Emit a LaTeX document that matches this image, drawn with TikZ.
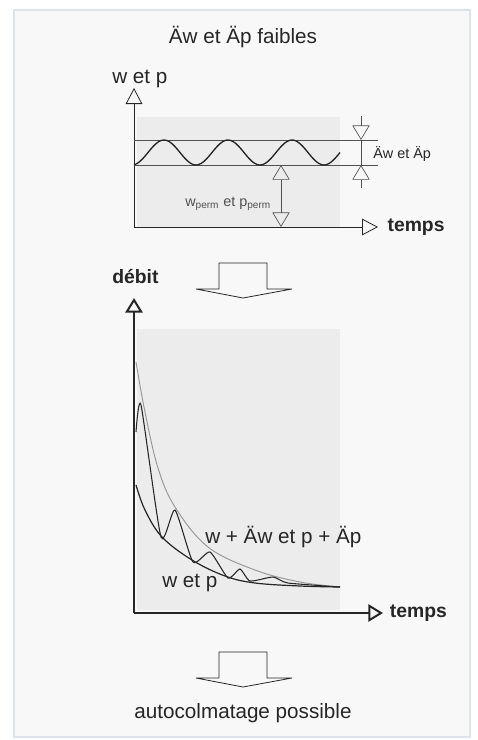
\documentclass[tikz,border=0pt]{standalone}
\usepackage{fontspec}
\setmainfont{Liberation Sans}
\usetikzlibrary{arrows.meta,positioning}
\definecolor{ink}{RGB}{38,38,38}
\definecolor{paper}{RGB}{248,248,249}
\definecolor{plotgray}{RGB}{236,236,237}
\definecolor{rim}{RGB}{220,227,235}
\definecolor{pale}{RGB}{150,150,150}
\tikzset{
  lbl/.style={inner sep=0pt,text=ink,font=\fontsize{15.5}{18}\selectfont},
  blbl/.style={lbl,font=\fontsize{14.5}{17}\selectfont\bfseries},
  slbl/.style={lbl,font=\fontsize{10.8}{13}\selectfont},
  axisline/.style={draw=ink,line width=0.6pt,-{Triangle[open,length=12pt,width=12.5pt]}},
  thickaxis/.style={draw=ink,line width=1.5pt,-{Triangle[open,length=11pt,width=13pt]}},
  level/.style={draw=ink!80,line width=0.6pt},
  dimtip/.style={draw=ink!80,line width=0.5pt,-{Triangle[open,length=11pt,width=13pt]}},
  curve/.style={draw=ink,line width=0.9pt},
  blockarrow/.style={draw=ink,line width=0.6pt,fill=paper,line join=miter}
}
\begin{document}
\begin{tikzpicture}[x=0.75pt,y=-0.75pt]
  \useasboundingbox (0,0) rectangle (478,740);
  \draw[rim,fill=paper,line width=1pt] (14,10) rectangle (470,737);

  % heading
  \node[lbl,anchor=base] (head) at (243,43) {Äw et Äp faibles};

  % upper plot
  \fill[plotgray] (137,117) rectangle (340,227);
  \coordinate (origA) at (134,227);
  \coordinate (ytipA) at (134,88);
  \coordinate (xtipA) at (378,227);
  \draw[axisline] (origA) -- (ytipA);
  \draw[axisline] (origA) -- (xtipA);
  \node[lbl,anchor=base west] (wpA) at (112,83) {w et p};
  \node[blbl,anchor=west,right=7pt of xtipA] (tempsA) {temps};

  \coordinate (hiL) at (134,140);
  \coordinate (hiR) at (378,140);
  \coordinate (loL) at (134,165);
  \coordinate (loR) at (378,165);
  \draw[level] (hiL) -- (hiR);
  \draw[level] (loL) -- (loR);
  \draw[curve,line width=1pt] plot[domain=134:340,samples=90,smooth]
    (\x,{152.5-12.5*cos(5.625*(\x-164))});

  % amplitude
  \coordinate (ampT) at (361,116);
  \coordinate (ampHi) at (361,140);
  \coordinate (ampLo) at (361,165);
  \coordinate (ampB) at (361,188);
  \draw[dimtip] (ampT) -- (ampHi);
  \draw[dimtip] (ampB) -- (ampLo);
  \draw[level,line width=0.5pt] (ampHi) -- (ampLo);
  \node[slbl,anchor=base west] (amp) at (373,158) {Äw et Äp};

  % permanent level
  \coordinate (permT) at (281,165);
  \coordinate (permB) at (281,227);
  \draw[dimtip,{Triangle[open,length=11pt,width=13pt]}-{Triangle[open,length=11pt,width=13pt]}]
    (permT) -- (permB);
  \node[slbl,text=ink!80,anchor=base west] (perm) at (185,206)
    {w\textsubscript{perm} et p\textsubscript{perm}};

  % big arrows
  \foreach \yt in {263,652}
    \draw[blockarrow] (219,\yt) -- (267,\yt) -- (267,\yt+26) -- (292,\yt+26)
      -- (243,\yt+35) -- (196,\yt+26) -- (219,\yt+26) -- cycle;

  % lower plot
  \fill[plotgray] (137,329) rectangle (340,610);
  \coordinate (origB) at (134,613);
  \coordinate (ytipB) at (134,298);
  \coordinate (xtipB) at (383,613);
  \draw[thickaxis] (origB) -- (ytipB);
  \draw[thickaxis] (origB) -- (xtipB);
  \node[blbl,anchor=base west] (debit) at (112,283) {débit};
  \node[blbl,anchor=west,right=5pt of xtipB] (tempsB) {temps};

  \draw[pale,line width=0.7pt] plot[smooth,tension=0.6] coordinates {
    (136,362) (145,412) (158,468) (175,507) (208,547) (255,570) (300,582) (340,587)};
  \draw[curve] plot[smooth,tension=0.6] coordinates {
    (136,485) (145,510) (162,537) (192,560) (225,576) (255,583) (300,586) (340,587)};
  \draw[curve,line width=0.8pt] plot[smooth,tension=0.35] coordinates {
    (136,432) (141,405) (161,537) (175,510) (193,562) (210,552) (228,578)
    (240,569) (250,581) (273,577) (288,583) (340,587)};
  \node[lbl,anchor=base west] (wdelta) at (205,543) {w + Äw et p + Äp};
  \node[lbl,anchor=base west] (wpB) at (162,587) {w et p};

  % outcome
  \node[lbl,anchor=base] (auto) at (243,718) {autocolmatage possible};
\end{tikzpicture}
\end{document}
